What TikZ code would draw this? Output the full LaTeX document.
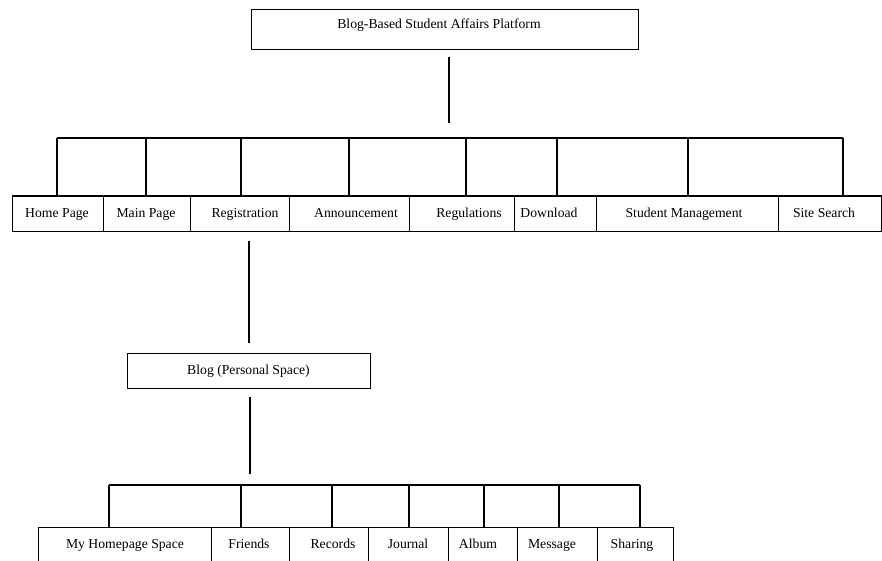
\documentclass[tikz,border=0pt]{standalone}
\usepackage{fontspec}
\setmainfont{Liberation Serif}
\begin{document}
\begin{tikzpicture}[x=1pt,y=-1pt,line width=1.2pt,
  box/.style={draw, inner sep=0pt, anchor=north west},
  lbl/.style={font=\fontsize{13.7}{16}\selectfont, inner sep=0pt, anchor=base}]
\clip (0,0) rectangle (882,561);
\fill[white] (0,0) rectangle (882,561);
% root
\node[box, minimum width=387, minimum height=40] (root) at (251,9) {};
\node[lbl] (rootT) at (439,29) {Blog-Based Student Affairs Platform};
\coordinate (r1) at (449,57);
\coordinate (r2) at (449,123);
\draw (r1) -- (r2);
% top bus
\coordinate (bL) at (57,138);
\coordinate (bR) at (843,138);
\draw (bL) -- (bR);
% top cells
\node[box, minimum width=91,  minimum height=35.5] (c1) at (12,195.5) {};
\node[box, minimum width=87,  minimum height=35.5] (c2) at (103,195.5) {};
\node[box, minimum width=99,  minimum height=35.5] (c3) at (190,195.5) {};
\node[box, minimum width=120, minimum height=35.5] (c4) at (289,195.5) {};
\node[box, minimum width=105, minimum height=35.5] (c5) at (409,195.5) {};
\node[box, minimum width=82,  minimum height=35.5] (c6) at (514,195.5) {};
\node[box, minimum width=182, minimum height=35.5] (c7) at (596,195.5) {};
\node[box, minimum width=103, minimum height=35.5] (c8) at (778,195.5) {};
\foreach \x/\c in {57/c1,146/c2,241/c3,349/c4,466/c5,557/c6,688/c7,843/c8}
  \draw (\x,138) coordinate (d\c) -- (d\c |- \c.north);
\node[lbl] (t1) at (57,218) {Home Page};
\node[lbl] (t2) at (146,218) {Main Page};
\node[lbl] (t3) at (245,218) {Registration};
\node[lbl] (t4) at (356,218) {Announcement};
\node[lbl] (t5) at (469,218) {Regulations};
\node[lbl] (t6) at (549,218) {Download};
\node[lbl] (t7) at (684,218) {Student Management};
\node[lbl] (t8) at (824,218) {Site Search};
% registration -> blog
\coordinate (g1) at (249,241);
\coordinate (g2) at (249,343);
\draw (g1) -- (g2);
\node[box, minimum width=243, minimum height=35] (blog) at (127,353) {};
\node[lbl] (blogT) at (248.5,374) {Blog (Personal Space)};
\coordinate (h1) at (250,397);
\coordinate (h2) at (250,474);
\draw (h1) -- (h2);
% bottom bus
\coordinate (sL) at (109,485);
\coordinate (sR) at (640,485);
\draw (sL) -- (sR);
\node[box, minimum width=173, minimum height=50] (b1) at (38,527) {};
\node[box, minimum width=78,  minimum height=50] (b2) at (211,527) {};
\node[box, minimum width=79,  minimum height=50] (b3) at (289,527) {};
\node[box, minimum width=80,  minimum height=50] (b4) at (368,527) {};
\node[box, minimum width=69,  minimum height=50] (b5) at (448,527) {};
\node[box, minimum width=80,  minimum height=50] (b6) at (517,527) {};
\node[box, minimum width=76,  minimum height=50] (b7) at (597,527) {};
\foreach \x/\c in {109/b1,241/b2,332/b3,409/b4,484/b5,559/b6,640/b7}
  \draw (\x,485) coordinate (e\c) -- (e\c |- \c.north);
\node[lbl] (u1) at (125,548) {My Homepage Space};
\node[lbl] (u2) at (249,548) {Friends};
\node[lbl] (u3) at (333,548) {Records};
\node[lbl] (u4) at (408,548) {Journal};
\node[lbl] (u5) at (478,548) {Album};
\node[lbl] (u6) at (552,548) {Message};
\node[lbl] (u7) at (632,548) {Sharing};
\end{tikzpicture}
\end{document}
